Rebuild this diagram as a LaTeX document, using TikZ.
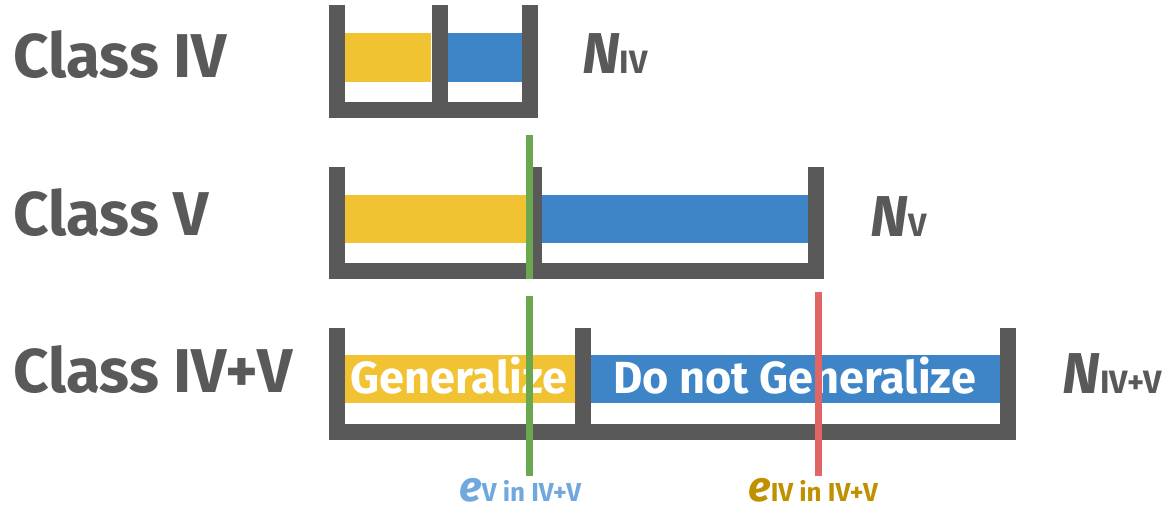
\documentclass[tikz,border=0pt]{standalone}
\usepackage{fontspec}
\setmainfont{Fira Sans}
\usepackage{xcolor}
\usetikzlibrary{fit}
\definecolor{ink}{HTML}{595959}
\definecolor{cGen}{HTML}{F1C232}
\definecolor{cNog}{HTML}{3D85C6}
\definecolor{cMkV}{HTML}{6AA84F}
\definecolor{cMkIV}{HTML}{E06666}
\definecolor{cTagV}{HTML}{6FA8DC}
\definecolor{cTagIV}{HTML}{BF9000}
\tikzset{
  wal/.style  = {draw=ink, line width=0.4cm, line cap=butt, line join=miter},
  bar/.style  = {inner sep=0pt, draw=none},
  gen/.style  = {bar, fill=cGen},
  nog/.style  = {bar, fill=cNog},
  cls/.style  = {anchor=base west, inner sep=0pt, text=ink,
                 font=\fontsize{44}{44}\selectfont\bfseries},
  cnt/.style  = {anchor=base west, inner sep=0pt, text=ink},
  tag/.style  = {anchor=base, inner sep=0pt, text=white,
                 font=\fontsize{32}{32}\selectfont\bfseries},
  mk/.style   = {line width=0.175cm, line cap=butt},
}
\newcommand{\Nsub}[1]{{\fontsize{41}{41}\selectfont\bfseries\itshape N}{\fontsize{23}{23}\selectfont\bfseries #1}}
\newcommand{\esub}[1]{{\fontsize{30}{30}\selectfont\bfseries\itshape e}{\fontsize{18.5}{18.5}\selectfont\bfseries #1}}

\begin{document}
\begin{tikzpicture}[x=0.025cm, y=-0.025cm]
  \useasboundingbox (0,0) rectangle (1175,512);

  % class labels
  \node[cls] (c4)  at (13,78)  {Class IV};
  \node[cls] (c5)  at (13,235) {Class V};
  \node[cls] (c45) at (13,392) {Class IV+V};

  % Class IV
  \node[gen, fit={(345,33) (431,82)}]  (g4) {};
  \node[nog, fit={(448,33) (522,82)}]  (b4) {};
  \draw[wal] (337,5) -- (337,110) -- (530,110) -- (530,5);
  \draw[wal] (439.5,5) -- (439.5,118);
  \node[cnt] (n4) at (582,73) {\Nsub{IV}};

  % Class V
  \node[gen, fit={(345,195) (526,243)}] (g5) {};
  \node[nog, fit={(542,195) (808,243)}] (b5) {};
  \draw[wal] (337,167) -- (337,271) -- (815.5,271) -- (815.5,167);
  \draw[wal] (534,167) -- (534,279);
  \node[cnt] (n5) at (870,236) {\Nsub{V}};

  % Class IV+V
  \node[gen, fit={(345,355) (575,403)}] (g45) {};
  \node[nog, fit={(590,355) (1000,403)}] (b45) {};
  \node[tag] (tg) at (459,393)   {Generalize};
  \node[tag] (tn) at (794.5,393) {Do not Generalize};
  \draw[wal] (337,328) -- (337,432) -- (1007.5,432) -- (1007.5,328);
  \draw[wal] (582.5,328) -- (582.5,440);
  \node[cnt] (n45) at (1062,393) {\Nsub{IV+V}};

  % marker lines
  \coordinate (mv1) at (529.5,135);
  \coordinate (mv2) at (529.5,279);
  \coordinate (mv3) at (529.5,296);
  \coordinate (mv4) at (529.5,476);
  \coordinate (mi1) at (818.5,292);
  \coordinate (mi2) at (818.5,476);
  \draw[mk, draw=cMkV] (mv1) -- (mv2);
  \draw[mk, draw=cMkV] (mv3) -- (mv4);
  \draw[mk, draw=cMkIV] (mi1) -- (mi2);

  \node[cnt, text=cTagV]  (ev)  at (459,501) {\esub{V in IV+V}};
  \node[cnt, text=cTagIV] (eiv) at (748,501) {\esub{IV in IV+V}};
\end{tikzpicture}
\end{document}
